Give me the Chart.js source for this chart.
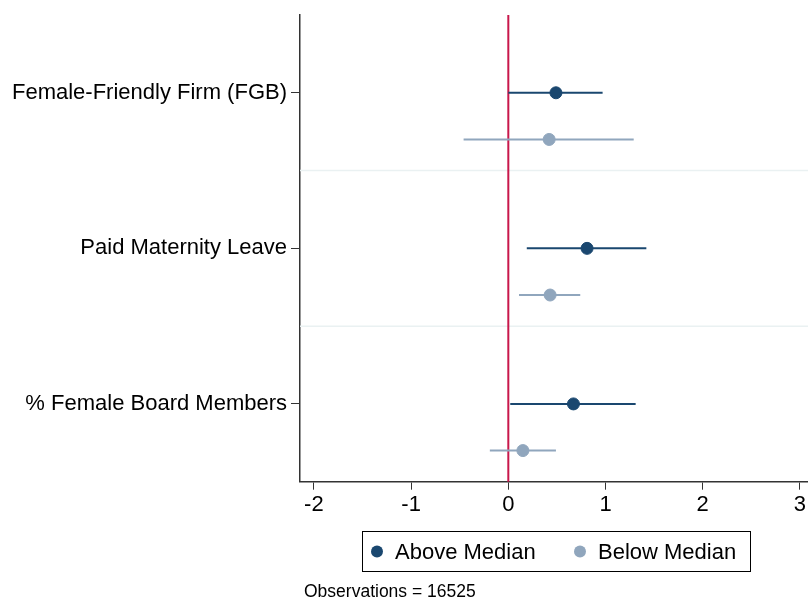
<!DOCTYPE html>
<html>
<head>
<meta charset="utf-8">
<script src="https://cdn.jsdelivr.net/npm/chart.js@4/dist/chart.umd.min.js"></script>
<style>
  html, body { margin: 0; padding: 0; background: #fff; }
  canvas { display: block; }
</style>
</head>
<body>
<canvas id="coefplot" width="808" height="601"></canvas>
<script>
// --- datos ---
const categories = ['Female-Friendly Firm (FGB)', 'Paid Maternity Leave', '% Female Board Members'];
const seriesNames = ['Above Median', 'Below Median'];
const aboveEst = [0.49, 0.81, 0.67];
const aboveLo = [0.00, 0.19, 0.02];
const aboveHi = [0.97, 1.42, 1.31];
const belowEst = [0.42, 0.43, 0.15];
const belowLo = [-0.46, 0.11, -0.19];
const belowHi = [1.29, 0.74, 0.49];
const xTicks = [-2, -1, 0, 1, 2, 3];
const observations = 16525;

// --- estilo ---
const FONT = 'Helvetica, Arial, "Liberation Sans", sans-serif';
const NAVY = '#1a476f';
const GREYBLUE = '#90a6bd';
const BELOW_OFFSET = 0.3;

function ciDatasets(lo, hi, offset, color) {
    return lo.map((l, i) => ({
        type: 'line',
        data: [{ x: l, y: i + offset }, { x: hi[i], y: i + offset }],
        borderColor: color,
        borderWidth: 2,
        pointRadius: 0,
        order: 2
    }));
}

function estDataset(est, offset, color, label) {
    return {
        type: 'scatter',
        label: label,
        data: est.map((v, i) => ({ x: v, y: i + offset })),
        backgroundColor: color,
        borderColor: color,
        pointRadius: 6,
        order: 0
    };
}

// lineas de separacion y linea roja en cero
const refLines = {
    id: 'refLines',
    beforeDatasetsDraw(chart) {
        const { ctx, chartArea, scales } = chart;
        ctx.save();
        ctx.strokeStyle = '#eaf1f2';
        ctx.lineWidth = 1.5;
        [0.5, 1.5].forEach(v => {
            const y = scales.y.getPixelForValue(v);
            ctx.beginPath();
            ctx.moveTo(chartArea.left, y);
            ctx.lineTo(chartArea.right, y);
            ctx.stroke();
        });
        const x0 = scales.x.getPixelForValue(0);
        ctx.strokeStyle = '#c8174b';
        ctx.lineWidth = 2;
        ctx.beginPath();
        ctx.moveTo(x0, chartArea.top);
        ctx.lineTo(x0, chartArea.bottom);
        ctx.stroke();
        ctx.restore();
    }
};

// leyenda con recuadro y nota de observaciones
const boxLegend = {
    id: 'boxLegend',
    afterDraw(chart) {
        const ctx = chart.ctx;
        ctx.save();
        ctx.strokeStyle = '#000';
        ctx.lineWidth = 1;
        ctx.strokeRect(362.5, 531.5, 388, 40);
        const colors = [NAVY, GREYBLUE];
        const dotX = [377, 580];
        ctx.font = '22px ' + FONT;
        ctx.textBaseline = 'middle';
        ctx.textAlign = 'left';
        seriesNames.forEach((name, i) => {
            ctx.fillStyle = colors[i];
            ctx.beginPath();
            ctx.arc(dotX[i], 551.5, 6, 0, Math.PI * 2);
            ctx.fill();
            ctx.fillStyle = '#000';
            ctx.fillText(name, dotX[i] + 18, 553);
        });
        ctx.font = '17.5px ' + FONT;
        ctx.fillText('Observations = ' + observations, 304, 592);
        ctx.restore();
    }
};

const datasets = [
    estDataset(aboveEst, 0, NAVY, seriesNames[0]),
    estDataset(belowEst, BELOW_OFFSET, GREYBLUE, seriesNames[1]),
    ...ciDatasets(aboveLo, aboveHi, 0, NAVY),
    ...ciDatasets(belowLo, belowHi, BELOW_OFFSET, GREYBLUE)
];

new Chart(document.getElementById('coefplot'), {
    type: 'scatter',
    data: { datasets },
    options: {
        responsive: false,
        animation: false,
        layout: { autoPadding: false, padding: { top: 15, right: 0, left: 0, bottom: 0 } },
        plugins: {
            legend: { display: false },
            tooltip: { enabled: false }
        },
        scales: {
            x: {
                type: 'linear',
                min: -2.143,
                max: 3.083,
                afterBuildTicks: (scale) => { scale.ticks = xTicks.map(v => ({ value: v })); },
                afterFit: (scale) => {
                    scale.height = 119.3;
                    scale.paddingLeft = 0;
                    scale.paddingRight = 0;
                },
                grid: { drawOnChartArea: false, drawTicks: true, tickLength: 8, color: '#333', lineWidth: 1 },
                border: { display: true, color: '#333', width: 1.5 },
                ticks: {
                    color: '#000',
                    font: { family: FONT, size: 22 },
                    padding: 2,
                    maxRotation: 0
                }
            },
            y: {
                type: 'linear',
                reverse: true,
                min: -0.5,
                max: 2.5,
                afterBuildTicks: (scale) => { scale.ticks = categories.map((c, i) => ({ value: i })); },
                afterFit: (scale) => {
                    scale.width = 300;
                    scale.paddingTop = 0;
                    scale.paddingBottom = 0;
                },
                grid: { drawOnChartArea: false, drawTicks: true, tickLength: 9, color: '#333', lineWidth: 1 },
                border: { display: true, color: '#333', width: 1.5 },
                ticks: {
                    color: '#000',
                    font: { family: FONT, size: 22 },
                    padding: 4,
                    callback: (v) => categories[v]
                }
            }
        }
    },
    plugins: [refLines, boxLegend]
});
</script>
</body>
</html>
